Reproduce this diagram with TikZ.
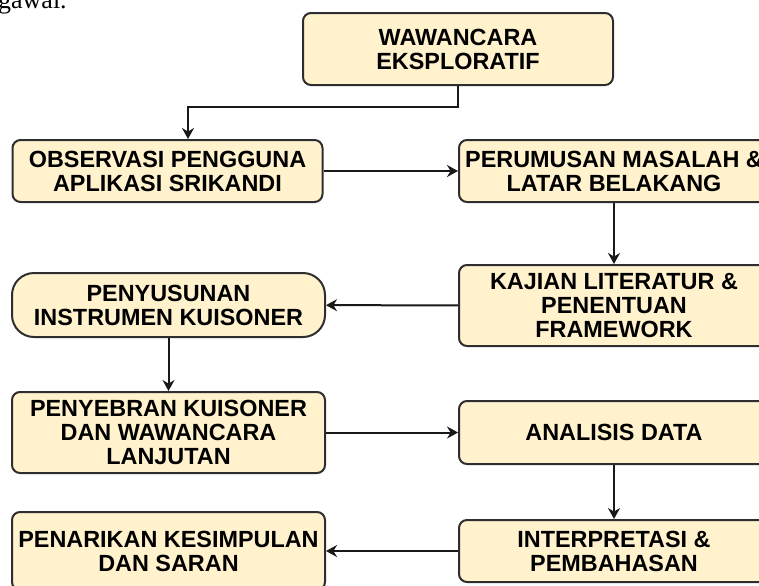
\documentclass[tikz,border=0pt]{standalone}
\usepackage{fontspec}
\setmainfont{Liberation Sans}
\newfontfamily\serifface{Liberation Serif}
\usepackage{xcolor}
\usetikzlibrary{positioning,arrows.meta}
\definecolor{boxfill}{HTML}{FFF2CC}
\definecolor{boxline}{HTML}{2E2E2E}

\begin{document}
\begin{tikzpicture}[
    x = 0.5pt, y = -0.5pt,
    > = {Stealth[length=5.5pt,width=6pt]},
    semithick,
    box/.style={rectangle, rounded corners=4pt, draw=boxline, line width=1pt,
        fill=boxfill, minimum width=155pt, align=center, inner sep=1pt,
        font=\bfseries\fontsize{11.7}{12}\selectfont},
    link/.style={->, line width=1pt, color=black!90}
]
    \useasboundingbox (0,0) rectangle (759,585);
    \node[anchor=base east, font=\serifface\fontsize{13}{15}\selectfont] (gawai) at (74,8) {gawai.};

    \node[box, minimum height=36pt] (wawancara) at (458,49) {WAWANCARA\\EKSPLORATIF};
    \node[box, minimum height=31pt] (observasi) at (167.5,171) {OBSERVASI PENGGUNA\\APLIKASI SRIKANDI};
    \node[box, minimum height=31pt] (perumusan) at (614,171) {PERUMUSAN MASALAH \&\\LATAR BELAKANG};
    \node[box, minimum height=40.5pt] (kajian) at (614,305.5) {KAJIAN LITERATUR \&\\PENENTUAN\\FRAMEWORK};
    \node[box, rounded corners=11pt, minimum width=156.5pt, minimum height=32pt] (penyusunan) at (168.5,305) {PENYUSUNAN\\INSTRUMEN KUISONER};
    \node[box, minimum width=156.5pt, minimum height=40.5pt] (penyebran) at (168.5,432.5) {PENYEBRAN KUISONER\\DAN WAWANCARA\\LANJUTAN};
    \node[box, minimum height=31.5pt] (analisis) at (614,432.5) {ANALISIS DATA};
    \node[box, minimum height=31pt] (interpretasi) at (614,551) {INTERPRETASI \&\\PEMBAHASAN};
    \node[box, minimum width=156.5pt, minimum height=39pt] (penarikan) at (168.5,551) {PENARIKAN KESIMPULAN\\DAN SARAN};

    \coordinate (bend) at (188,107);
    \draw[link] (wawancara.south) |- (bend) -- (bend |- observasi.north);
    \path[link]
        (observasi) edge (perumusan)
        (perumusan) edge (kajian)
        (kajian) edge (penyusunan)
        (penyusunan) edge (penyebran)
        (penyebran) edge (analisis)
        (analisis) edge (interpretasi)
        (interpretasi) edge (penarikan);
\end{tikzpicture}
\end{document}
